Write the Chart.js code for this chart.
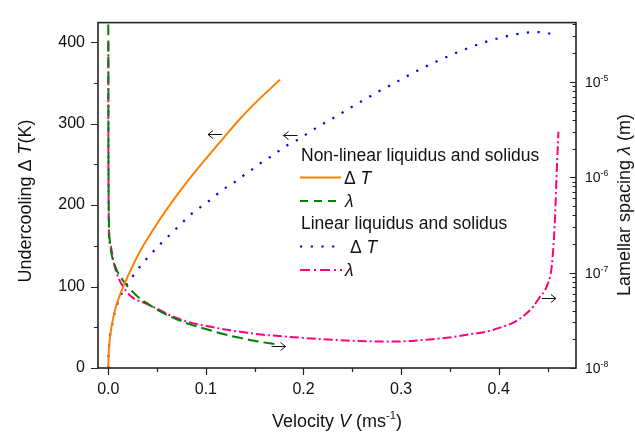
<!DOCTYPE html>
<html>
<head>
<meta charset="utf-8">
<script src="https://cdn.jsdelivr.net/npm/chart.js@4.4.1/dist/chart.umd.min.js"></script>
<style>
html,body{margin:0;padding:0;background:#fff;}
canvas{display:block;}
</style>
</head>
<body>
<canvas id="c" width="635" height="432"></canvas>
<script>
// ---------- DATA ----------
// Non-linear liquidus and solidus: undercooling ΔT (K) vs velocity V (m/s)
const velocityNonLinearT = [0, 0.0003, 0.0018, 0.0066, 0.0133, 0.0168, 0.0236, 0.0338, 0.044, 0.0509, 0.0666, 0.0837, 0.1008, 0.1178, 0.135, 0.152, 0.176];
const undercoolingNonLinear = [0, 15, 38, 70, 94, 104, 122, 146, 166, 179, 206, 233, 258, 282, 306, 327, 354];

// Non-linear liquidus and solidus: lamellar spacing λ (m)
const velocityNonLinearL = [0.00001, 0.0001, 0.0003, 0.0007, 0.0017, 0.0025, 0.0082, 0.015, 0.0202, 0.0338, 0.0407, 0.0496, 0.0666, 0.0837, 0.1008, 0.1178, 0.135, 0.152, 0.172];
const spacingNonLinear = [4.0e-5, 3e-6, 8e-7, 3.2e-7, 2.1e-7, 1.75e-7, 1.09e-7, 8.3e-8, 7.1e-8, 5.2e-8, 4.7e-8, 4.1e-8, 3.36e-8, 2.87e-8, 2.55e-8, 2.27e-8, 2.07e-8, 1.91e-8, 1.77e-8];

// Linear liquidus and solidus: undercooling ΔT (K)
const velocityLinearT = [0, 0.0003, 0.0035, 0.0089, 0.0185, 0.0263, 0.0338, 0.043, 0.053, 0.0632, 0.0735, 0.0837, 0.0957, 0.106, 0.116, 0.128, 0.138, 0.1486, 0.1588, 0.1698, 0.181, 0.192, 0.2026, 0.2135, 0.2244, 0.235, 0.2459, 0.2566, 0.2671, 0.2777, 0.2886, 0.2996, 0.3098, 0.3207, 0.3313, 0.342, 0.353, 0.3637, 0.3744, 0.3849, 0.3959, 0.4064, 0.4174, 0.428, 0.4385, 0.4492, 0.46];
const undercoolingLinear = [0, 15, 50, 77, 102, 114.5, 126.5, 139, 151.7, 163.7, 175.7, 187.7, 198.6, 207.8, 217.8, 227, 235.8, 244.7, 253.8, 262, 271.8, 278.7, 286.7, 295.1, 302.7, 309.9, 318, 325.5, 332.7, 340, 346.8, 354, 360.7, 367.2, 373.6, 379.2, 385.2, 390.4, 395.2, 399.6, 403.6, 406.8, 409.6, 411.6, 412.4, 411.2, 408.4];

// Linear liquidus and solidus: lamellar spacing λ (m)
const velocityLinearL = [0.00001, 0.0001, 0.0003, 0.0007, 0.0025, 0.0048, 0.0082, 0.0133, 0.0236, 0.0373, 0.0496, 0.0666, 0.0837, 0.1008, 0.1178, 0.135, 0.152, 0.1828, 0.22, 0.25, 0.2785, 0.299, 0.3227, 0.3467, 0.3672, 0.3877, 0.4013, 0.415, 0.4252, 0.4355, 0.4423, 0.4488, 0.4543, 0.4565, 0.458, 0.4594, 0.4612];
const spacingLinear = [2.6e-5, 2.5e-6, 6e-7, 2.43e-7, 1.9e-7, 1.39e-7, 1.01e-7, 7.67e-8, 5.61e-8, 4.79e-8, 4.2e-8, 3.45e-8, 3.0e-8, 2.76e-8, 2.55e-8, 2.4e-8, 2.27e-8, 2.13e-8, 2.0e-8, 1.93e-8, 1.9e-8, 1.9e-8, 1.97e-8, 2.07e-8, 2.23e-8, 2.41e-8, 2.65e-8, 2.99e-8, 3.5e-8, 4.43e-8, 5.6e-8, 7.0e-8, 1.15e-7, 2.2e-7, 4.5e-7, 1.1e-6, 3.0e-6];

// Axis ticks
const xTicks = [0, 0.1, 0.2, 0.3, 0.4];
const xMinorTicks = [0.05, 0.15, 0.25, 0.35, 0.45];
const yTicks = [0, 100, 200, 300, 400];
const yMinorTicks = [50, 150, 250, 350];
const y2Ticks = [1e-8, 1e-7, 1e-6, 1e-5];
const y2TickExponents = ['-8', '-7', '-6', '-5'];

// Annotation arrows: [direction, V, value, axis]
const arrowNotes = [
  [-1, 0.1093, 287, 'y'],
  [-1, 0.1867, 286, 'y'],
  [1, 0.1744, 1.72e-8, 'y2'],
  [1, 0.4515, 5.47e-8, 'y2']
];

// ---------- STYLE ----------
const FONT = "'Liberation Sans', Arial, Helvetica, sans-serif";
const ORANGE = '#FF8000', GREEN = '#008000', BLUE = '#0000FF', PINK = '#FF0080';
const DASH_GREEN = [11, 5], DASH_BLUE = [2.2, 8.5], DASH_PINK = [9, 3, 2, 3];

const pts = (xs, ys) => xs.map((x, i) => ({x: x, y: ys[i]}));

function drawRich(ctx, parts, x, y, size, align) {
  let total = 0;
  const items = parts.map(p => {
    const fs = p.sup ? size * 0.62 : size;
    const font = (p.italic ? 'italic ' : '') + fs + 'px ' + FONT;
    ctx.font = font;
    const w = ctx.measureText(p.t).width;
    total += w;
    return {p, font, w};
  });
  let cx = align === 'center' ? x - total / 2 : x;
  ctx.textAlign = 'left';
  ctx.textBaseline = 'alphabetic';
  for (const it of items) {
    ctx.font = it.font;
    ctx.fillText(it.p.t, cx, y + (it.p.sup ? -size * 0.42 : 0));
    cx += it.w;
  }
  return total;
}

const decorPlugin = {
  id: 'decor',
  afterDraw(chart) {
    const ctx = chart.ctx;
    const ca = chart.chartArea;
    const xs = chart.scales.x, yl = chart.scales.y, yr = chart.scales.y2;
    ctx.save();
    ctx.fillStyle = '#000';
    ctx.strokeStyle = '#222';
    ctx.setLineDash([]);
    // frame
    ctx.lineWidth = 1.6;
    ctx.strokeRect(ca.left, ca.top, ca.right - ca.left, ca.bottom - ca.top);
    ctx.lineWidth = 1.2;
    ctx.beginPath();
    // bottom ticks (outward)
    xTicks.forEach(v => { const p = Math.round(xs.getPixelForValue(v)) + 0.5; ctx.moveTo(p, ca.bottom); ctx.lineTo(p, ca.bottom + 7); });
    xMinorTicks.forEach(v => { const p = Math.round(xs.getPixelForValue(v)) + 0.5; ctx.moveTo(p, ca.bottom); ctx.lineTo(p, ca.bottom + 4); });
    // left ticks (outward)
    yTicks.forEach(v => { const p = Math.round(yl.getPixelForValue(v)) + 0.5; ctx.moveTo(ca.left, p); ctx.lineTo(ca.left - 7, p); });
    yMinorTicks.forEach(v => { const p = Math.round(yl.getPixelForValue(v)) + 0.5; ctx.moveTo(ca.left, p); ctx.lineTo(ca.left - 4, p); });
    // right ticks (inward, log)
    y2Ticks.forEach(v => {
      const p = Math.round(yr.getPixelForValue(v)) + 0.5;
      ctx.moveTo(ca.right, p); ctx.lineTo(ca.right - 6, p);
      for (let m = 2; m <= 9; m++) {
        const mv = v * m;
        if (mv >= yr.max * 0.97) break;
        const q = Math.round(yr.getPixelForValue(mv)) + 0.5;
        ctx.moveTo(ca.right, q); ctx.lineTo(ca.right - 3.5, q);
      }
    });
    ctx.stroke();

    // right tick labels 10^n
    ctx.fillStyle = '#111';
    y2Ticks.forEach((v, i) => {
      const p = yr.getPixelForValue(v);
      drawRich(ctx, [{t: '10'}, {t: y2TickExponents[i], sup: true}], ca.right + 9, p + 5, 14, 'left');
    });

    // axis titles
    drawRich(ctx, [{t: 'Velocity '}, {t: 'V', italic: true}, {t: ' (ms'}, {t: '-1', sup: true}, {t: ')'}], 337, 427, 18, 'center');
    ctx.save();
    ctx.translate(31, 201);
    ctx.rotate(-Math.PI / 2);
    drawRich(ctx, [{t: 'Undercooling Δ '}, {t: 'T', italic: true}, {t: '(K)'}], 0, 0, 18, 'center');
    ctx.restore();
    ctx.save();
    ctx.translate(630, 205);
    ctx.rotate(-Math.PI / 2);
    drawRich(ctx, [{t: 'Lamellar spacing '}, {t: 'λ', italic: true}, {t: ' (m)'}], 0, 0, 18, 'center');
    ctx.restore();

    // legend
    const lx = 301, lfs = 17.5;
    drawRich(ctx, [{t: 'Non-linear liquidus and solidus'}], lx, 161, lfs, 'left');
    drawRich(ctx, [{t: 'Linear liquidus and solidus'}], lx, 229, lfs, 'left');
    const sample = (y, color, dash, x2, w) => {
      ctx.save();
      ctx.strokeStyle = color; ctx.lineWidth = w || 2; ctx.setLineDash(dash);
      ctx.beginPath(); ctx.moveTo(lx - 1, y); ctx.lineTo(x2, y); ctx.stroke();
      ctx.restore();
    };
    sample(177.5, ORANGE, [], 341);
    sample(201, GREEN, [8, 6], 342);
    sample(246.5, BLUE, DASH_BLUE, 336, 2.2);
    sample(270, PINK, [10, 4, 2, 4], 342);
    ctx.fillStyle = '#111';
    drawRich(ctx, [{t: 'Δ '}, {t: 'T', italic: true}], 344, 183.5, lfs, 'left');
    drawRich(ctx, [{t: 'λ', italic: true}], 345, 207, lfs, 'left');
    drawRich(ctx, [{t: 'Δ '}, {t: 'T', italic: true}], 350, 252.5, lfs, 'left');
    drawRich(ctx, [{t: 'λ', italic: true}], 345, 276, lfs, 'left');

    // arrows (open heads)
    ctx.strokeStyle = '#111';
    ctx.lineWidth = 1;
    arrowNotes.forEach(a => {
      const px = xs.getPixelForValue(a[1]);
      const py = Math.round(chart.scales[a[3]].getPixelForValue(a[2])) + 0.5;
      const d = a[0], half = 7;
      const tip = px + d * half, tail = px - d * half;
      ctx.beginPath();
      ctx.moveTo(tail, py); ctx.lineTo(tip, py);
      ctx.moveTo(tip - d * 5, py - 4); ctx.lineTo(tip, py); ctx.lineTo(tip - d * 5, py + 4);
      ctx.stroke();
    });
    ctx.restore();
  }
};

new Chart(document.getElementById('c'), {
  type: 'line',
  data: {
    datasets: [
      {label: 'ΔT non-linear', data: pts(velocityNonLinearT, undercoolingNonLinear), yAxisID: 'y',
       borderColor: ORANGE, borderWidth: 2, pointRadius: 0, fill: false, cubicInterpolationMode: 'monotone'},
      {label: 'λ non-linear', data: pts(velocityNonLinearL, spacingNonLinear), yAxisID: 'y2',
       borderColor: GREEN, borderWidth: 2, borderDash: DASH_GREEN, pointRadius: 0, fill: false, cubicInterpolationMode: 'monotone'},
      {label: 'ΔT linear', data: pts(velocityLinearT, undercoolingLinear), yAxisID: 'y',
       borderColor: BLUE, borderWidth: 2.2, borderDash: DASH_BLUE, pointRadius: 0, fill: false, cubicInterpolationMode: 'monotone'},
      {label: 'λ linear', data: pts(velocityLinearL, spacingLinear), yAxisID: 'y2',
       borderColor: PINK, borderWidth: 2, borderDash: DASH_PINK, pointRadius: 0, fill: false, cubicInterpolationMode: 'monotone'}
    ]
  },
  options: {
    responsive: false,
    animation: false,
    devicePixelRatio: 1,
    layout: {padding: {top: 15, left: 0, right: 0, bottom: 0}},
    plugins: {legend: {display: false}, tooltip: {enabled: false}},
    scales: {
      x: {
        type: 'linear', min: -0.01055, max: 0.4792,
        grid: {display: false, drawTicks: false}, border: {display: false},
        afterBuildTicks: s => { s.ticks = xTicks.map(v => ({value: v})); },
        afterFit: s => { s.height = 64; },
        ticks: {padding: 12, autoSkip: false, maxRotation: 0, color: '#111',
                font: {family: FONT, size: 16}, callback: v => Number(v).toFixed(1)}
      },
      y: {
        type: 'linear', position: 'left', min: 0, max: 424,
        grid: {display: false, drawTicks: false}, border: {display: false},
        afterBuildTicks: s => { s.ticks = yTicks.map(v => ({value: v})); },
        afterFit: s => { s.width = 98; },
        ticks: {padding: 13, autoSkip: false, color: '#111',
                font: {family: FONT, size: 16}, callback: v => String(v)}
      },
      y2: {
        type: 'logarithmic', position: 'right', min: 1e-8, max: 4.18e-5,
        grid: {display: false, drawTicks: false}, border: {display: false},
        afterBuildTicks: s => { s.ticks = y2Ticks.map(v => ({value: v})); },
        afterFit: s => { s.width = 59; },
        ticks: {display: false}
      }
    }
  },
  plugins: [decorPlugin]
});
</script>
</body>
</html>
